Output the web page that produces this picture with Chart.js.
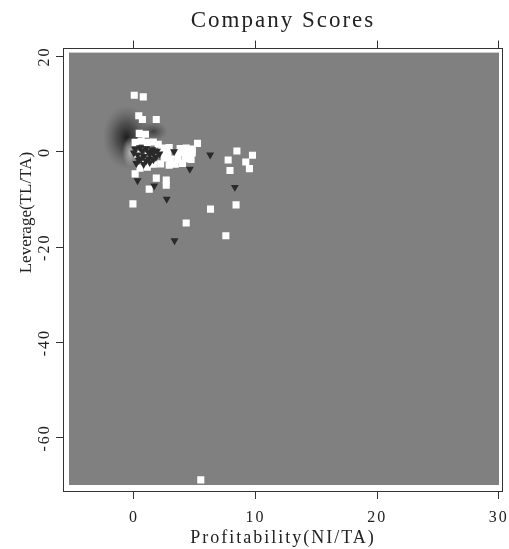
<!DOCTYPE html>
<html>
<head>
<meta charset="utf-8">
<script src="https://cdn.jsdelivr.net/npm/chart.js@4/dist/chart.umd.min.js"></script>
<style>
  html, body { margin: 0; padding: 0; background: #fff; }
  canvas { display: block; }
</style>
</head>
<body>
<canvas id="scores" width="509" height="549"></canvas>
<script>
// Axis ticks
const xTicks = [0, 10, 20, 30];
const yTicks = [-60, -40, -20, 0, 20];

// Group A (white squares): profitability and leverage
const squareX = [0.03, 0.77, 0.40, 0.70, 1.84, 0.44, 0.95, 5.23, 8.47, 9.75, 7.75, 9.2, 9.5, 7.9,
  0.1, 1.84, 2.66, 2.66, 1.26, -0.08, 6.3, 8.4, 4.3, 7.56, 5.5,
  0.1, 0.6, 1.1, 1.6, 2.0,
  2.4, 2.9, 3.8, 4.3, 4.8,
  2.3, 2.8, 3.5, 3.9, 4.4, 4.8,
  2.5, 3.0, 3.6, 4.2, 4.7,
  2.2, 2.9, 3.4, 4.0, 1.6, 0.9,
  0.3, 1.2, 0.8, 0.5, 1.1];
const squareY = [11.9, 11.55, 7.6, 6.8, 6.8, 3.9, 3.7, 1.8, 0.2, -0.7, -1.7, -2.1, -3.5, -3.9,
  -4.6, -5.5, -5.9, -7.0, -7.8, -10.9, -12.0, -11.1, -14.9, -17.6, -68.8,
  2.0, 2.3, 2.0, 2.1, 1.6,
  0.8, 0.9, 0.7, 0.8, 0.6,
  0.1, -0.2, -0.5, -0.1, -0.4, -0.2,
  -1.3, -1.5, -1.6, -1.4, -1.6,
  -2.5, -2.8, -2.6, -2.4, -2.6, -2.7,
  -0.5, 0.2, -1.8, -3.4, -3.2];

// Group B (dark triangles): profitability and leverage
const triangleX = [3.3, 6.27, 4.6, 8.3, 0.3, 1.67, 2.7, 3.34,
  0.1, 0.5, 1.0, 1.5, 1.9, 0.3, 0.8, 1.3, 0.4, 1.2, 1.8, 0.2, 1.3,
  0.7, 1.2, 1.6, 0.6, 1.0, 1.6, 2.1, 0.0, 0.8];
const triangleY = [0.07, -0.6, -3.6, -7.4, -6.0, -7.1, -9.9, -18.6,
  0.6, 0.9, 0.7, 0.5, 0.2, -0.6, -0.9, -0.5, -1.7, -1.5, -1.1, -2.4, -2.2,
  0.2, 0.1, -0.2, -1.4, -1.9, -1.6, -0.4, -0.2, -2.6];

const toPoints = (xs, ys) => xs.map((x, i) => ({ x, y: ys[i] }));

const SERIF = "'Liberation Serif', 'Times New Roman', serif";
const INK = '#222';
Chart.defaults.font.family = SERIF;
Chart.defaults.color = INK;

// Slightly widened lettering for horizontal text
const wideLetters = {
  id: 'wideLetters',
  beforeUpdate(chart) { chart.ctx.letterSpacing = '2px'; },
  beforeDraw(chart) { chart.ctx.letterSpacing = '2px'; }
};

// Grey plotting panel with its shading, plus the surrounding frame
const plotPanel = {
  id: 'plotPanel',
  beforeDraw(chart) {
    const { ctx, chartArea: a, scales: { x, y } } = chart;
    ctx.save();
    ctx.fillStyle = '#ffffff';
    ctx.fillRect(0, 0, chart.width, chart.height);

    ctx.fillStyle = '#808080';
    ctx.fillRect(a.left + 6, a.top + 5, a.width - 10, a.height - 12);

    ctx.beginPath();
    ctx.rect(a.left + 6, a.top + 5, a.width - 10, a.height - 12);
    ctx.clip();

    const drawGlow = (vx, vy, rx, ry, stops) => {
      ctx.save();
      ctx.translate(x.getPixelForValue(vx), y.getPixelForValue(vy));
      ctx.scale(rx / 20, ry / 20);
      const g = ctx.createRadialGradient(0, 0, 0, 0, 0, 20);
      stops.forEach(([o, c]) => g.addColorStop(o, c));
      ctx.fillStyle = g;
      ctx.beginPath();
      ctx.arc(0, 0, 20, 0, Math.PI * 2);
      ctx.fill();
      ctx.restore();
    };
    // dark smudge behind the dense cluster, light patch at its lower edge
    drawGlow(-0.6, 3.1, 24, 32, [[0, 'rgba(20,20,20,0.9)'], [0.45, 'rgba(40,40,40,0.55)'], [1, 'rgba(80,80,80,0)']]);
    drawGlow(1.6, 4.3, 14, 10, [[0, 'rgba(40,40,40,0.7)'], [1, 'rgba(60,60,60,0)']]);
    drawGlow(-0.3, 0.0, 8, 15, [[0, 'rgba(205,205,205,0.8)'], [0.6, 'rgba(190,190,190,0.4)'], [1, 'rgba(180,180,180,0)']]);
    ctx.restore();

    ctx.save();
    ctx.strokeStyle = '#333';
    ctx.lineWidth = 1;
    ctx.strokeRect(Math.round(a.left) + 0.5, Math.round(a.top) + 0.5,
      Math.round(a.width) - 1, Math.round(a.height) - 1);
    ctx.restore();
  },
  afterDraw(chart) {
    // vertical axis title
    const { ctx, chartArea: a } = chart;
    ctx.save();
    ctx.letterSpacing = '0px';
    ctx.font = `17px ${SERIF}`;
    ctx.fillStyle = INK;
    ctx.textAlign = 'center';
    ctx.textBaseline = 'middle';
    ctx.translate(a.left - 36, a.top + 165);
    ctx.rotate(-Math.PI / 2);
    ctx.fillText('Leverage(TL/TA)', 0, 0);
    ctx.restore();
  }
};

const tickMarks = { display: true, drawOnChartArea: false, drawTicks: true, tickLength: 7, color: '#333', lineWidth: 1 };

new Chart(document.getElementById('scores'), {
  type: 'scatter',
  data: {
    datasets: [
      {
        label: 'Group B',
        data: toPoints(triangleX, triangleY),
        pointStyle: 'triangle',
        rotation: 180,
        pointRadius: 4.6,
        backgroundColor: '#2a2a2a',
        borderWidth: 0
      },
      {
        label: 'Group A',
        data: toPoints(squareX, squareY),
        pointStyle: 'rect',
        pointRadius: 5,
        backgroundColor: '#ffffff',
        borderWidth: 0
      }
    ]
  },
  options: {
    responsive: false,
    animation: false,
    events: [],
    layout: { padding: { left: 18, right: 6, top: 0, bottom: 0 } },
    plugins: {
      legend: { display: false },
      tooltip: { enabled: false },
      title: {
        display: true,
        fullSize: false,
        text: 'Company Scores',
        color: INK,
        font: { family: SERIF, size: 23, weight: 'normal', lineHeight: 1.2 },
        padding: { top: 7, bottom: 6 }
      }
    },
    scales: {
      x: {
        type: 'linear',
        position: 'bottom',
        min: -5.83,
        max: 30.35,
        afterBuildTicks: s => { s.ticks = xTicks.map(v => ({ value: v })); },
        afterFit: s => { s.paddingLeft = 0; s.paddingRight = 0; },
        grid: tickMarks,
        border: { display: false },
        ticks: { font: { size: 16, lineHeight: 1.0 }, color: INK, padding: 10.5, maxRotation: 0 },
        title: {
          display: true,
          text: 'Profitability(NI/TA)',
          color: INK,
          font: { size: 18, lineHeight: 1.2 },
          padding: { top: -8.6, bottom: 0 }
        }
      },
      xTop: {
        type: 'linear',
        position: 'top',
        min: -5.83,
        max: 30.35,
        afterBuildTicks: s => { s.ticks = xTicks.map(v => ({ value: v })); },
        afterFit: s => { s.paddingLeft = 0; s.paddingRight = 0; },
        grid: tickMarks,
        border: { display: false },
        ticks: { display: false }
      },
      y: {
        type: 'linear',
        position: 'left',
        min: -71.34,
        max: 21.89,
        afterBuildTicks: s => { s.ticks = yTicks.map(v => ({ value: v })); },
        afterFit: s => { s.width = 45; },
        grid: tickMarks,
        border: { display: false },
        ticks: { font: { size: 16, lineHeight: 1.0 }, color: INK, padding: -2.5, minRotation: 90, maxRotation: 90, crossAlign: 'center' }
      }
    }
  },
  plugins: [wideLetters, plotPanel]
});
</script>
</body>
</html>
